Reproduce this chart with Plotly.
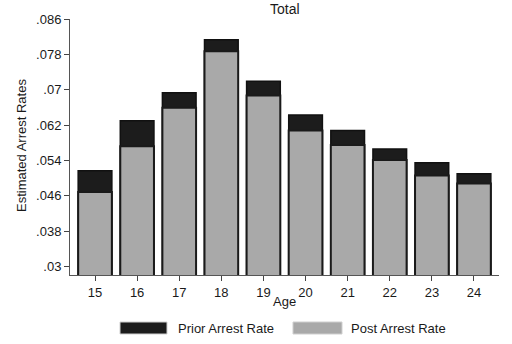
import plotly.graph_objects as go

# Estimated arrest rates by age
ages = [15, 16, 17, 18, 19, 20, 21, 22, 23, 24]
prior_rate = [0.0517, 0.0630, 0.0693, 0.0813, 0.0719, 0.0643, 0.0608, 0.0566, 0.0535, 0.0510]
post_rate = [0.0469, 0.0572, 0.0659, 0.0787, 0.0687, 0.0608, 0.0575, 0.0541, 0.0506, 0.0488]
y_ticks = [0.030, 0.038, 0.046, 0.054, 0.062, 0.070, 0.078, 0.086]
y_tick_labels = [".03", ".038", ".046", ".054", ".062", ".07", ".078", ".086"]

PRIOR_COLOR = "#1c1c1c"
POST_COLOR = "#a9a9a9"
TEXT = "#1a1a1a"
FONT = "Liberation Sans, Arial, sans-serif"

W, H = 512, 344
ML, MR, MT, MB = 70, 13, 19, 69
PW, PH = W - ML - MR, H - MT - MB


def px_x(x):
    return (x - ML) / PW


def px_y(y):
    return (H - MB - y) / PH


fig = go.Figure()
fig.add_trace(go.Bar(
    x=ages, y=prior_rate, base=0, name="Prior Arrest Rate",
    marker=dict(color=PRIOR_COLOR, line=dict(color="#111111", width=1.5)),
    width=0.8, showlegend=False,
))
fig.add_trace(go.Bar(
    x=ages, y=post_rate, base=0, name="Post Arrest Rate",
    marker=dict(color=POST_COLOR, line=dict(color="#1a1a1a", width=2)),
    width=0.8, showlegend=False,
))

fig.update_layout(
    width=W, height=H,
    margin=dict(l=ML, r=MR, t=MT, b=MB),
    barmode="overlay",
    plot_bgcolor="white", paper_bgcolor="white",
    font=dict(family=FONT, size=13, color=TEXT),
    xaxis=dict(
        range=[14.406, 24.594], tickvals=ages, ticks="outside", ticklen=5,
        tickcolor="#444", showline=True, linecolor="#555", linewidth=1,
        showgrid=False, zeroline=False, tickfont=dict(size=13),
    ),
    yaxis=dict(
        range=[0.0281, 0.086], tickvals=y_ticks, ticktext=y_tick_labels,
        ticks="outside", ticklen=5, tickcolor="#444", showline=True,
        linecolor="#555", linewidth=1, showgrid=False, zeroline=False,
        tickfont=dict(size=13),
    ),
)

annotations = [
    dict(text="Total", x=0.5, y=px_y(9), xref="paper", yref="paper",
         showarrow=False, font=dict(size=14), xanchor="center", yanchor="middle"),
    dict(text="Age", x=px_x(284), y=px_y(301), xref="paper", yref="paper",
         showarrow=False, font=dict(size=13), xanchor="center", yanchor="middle"),
    dict(text="Estimated Arrest Rates", x=px_x(21), y=px_y(146), xref="paper",
         yref="paper", showarrow=False, textangle=-90, font=dict(size=13),
         xanchor="center", yanchor="middle"),
]

# legend: wide swatches with labels below the axis
legend_items = [("Prior Arrest Rate", PRIOR_COLOR, 120, 167, 176),
                ("Post Arrest Rate", POST_COLOR, 293, 342, 349)]
shapes = []
for label, color, x0, x1, tx in legend_items:
    shapes.append(dict(type="rect", xref="paper", yref="paper",
                       x0=px_x(x0), x1=px_x(x1), y0=px_y(334), y1=px_y(322),
                       fillcolor=color, line=dict(color="#cfcfcf", width=1)))
    annotations.append(dict(text=label, x=px_x(tx), y=px_y(328), xref="paper",
                            yref="paper", showarrow=False, xanchor="left",
                            yanchor="middle", font=dict(size=13)))

fig.update_layout(annotations=annotations, shapes=shapes)
fig.write_html("out.html")
